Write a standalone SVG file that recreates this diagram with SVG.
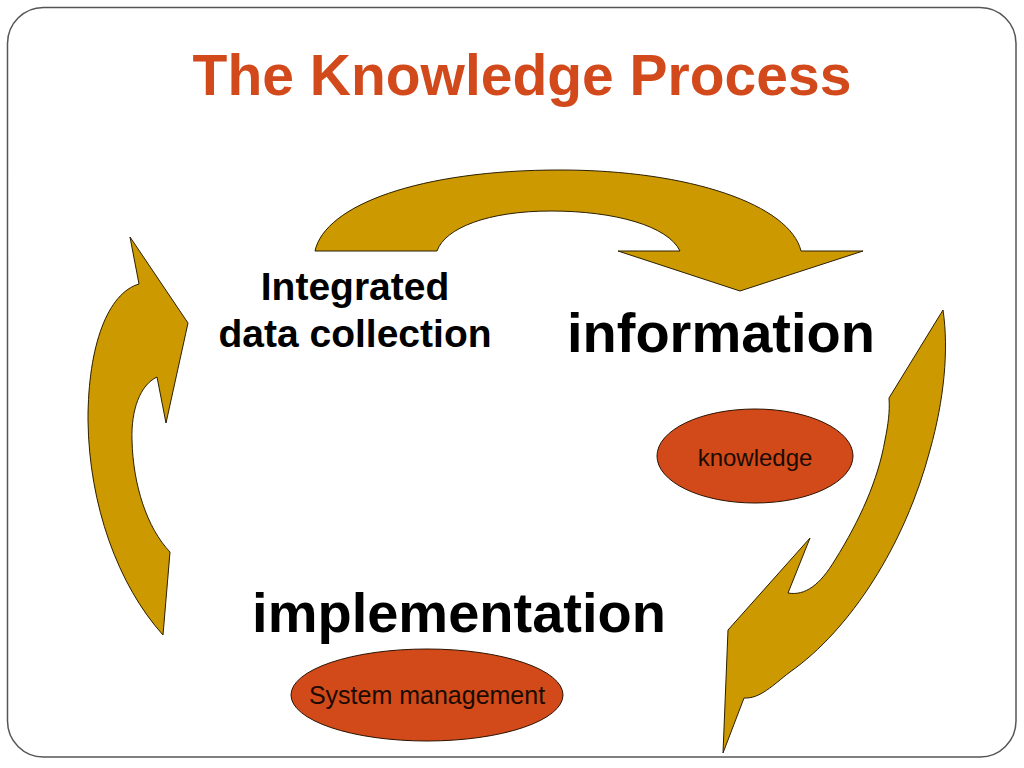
<svg xmlns="http://www.w3.org/2000/svg" width="1024" height="768" viewBox="0 0 1024 768">
<style>
.arrow{fill:#cc9900;stroke:#2b1f00;stroke-width:1}
.oval{fill:#d24a1a;stroke:#2b1200;stroke-width:1}
.big{font-family:"Liberation Sans",Arial,sans-serif;font-weight:bold;fill:#000}
.small{font-family:"Liberation Sans",Arial,sans-serif;fill:#1a0a00}
</style>
<rect x="0" y="0" width="1024" height="768" fill="#fff"/>
<rect x="7.5" y="7.5" width="1008.5" height="749.5" rx="36" ry="36" fill="none" stroke="#555" stroke-width="1.5"/>
<text x="522" y="95" text-anchor="middle" font-family="Liberation Sans, Arial, sans-serif" font-weight="bold" font-size="57" fill="#d2491c">The Knowledge Process</text>
<g id="connectors">
<path class="arrow" d="M315,251 C325,205 420,170 560,170 C690,170 790,205 801,251 L863,251 L740,291 L618,251 L680,251 C668,226 615,211 551,211 C488,211 445,228 437,251 Z"/>
<path class="arrow" d="M130,237 L188,323 L166,423 L157,377 C140,385 131,410 132,440 C133,485 147,528 170,552 L163,635 C118,585 89,505 88,420 C88,345 108,293 139,284 Z"/>
<path class="arrow" d="M943,310 C949,350 944,400 930,450 C905,545 850,630 790,672 C773,685 760,699 744,698 L723,753 L728,630 L810,538 L788,593 C805,596 820,585 835,560 C860,520 878,480 885,440 C888,425 890,412 889,398 Z"/>
</g>
<g id="node-integrated">
<text class="big" font-size="39" text-anchor="middle"><tspan x="355" y="300">Integrated</tspan><tspan x="355" y="347">data collection</tspan></text>
</g>
<g id="node-information">
<text class="big" x="721" y="352" font-size="56" text-anchor="middle">information</text>
</g>
<g id="node-knowledge">
<ellipse class="oval" cx="755" cy="456" rx="98" ry="47"/>
<text class="small" x="755" y="466" font-size="24" text-anchor="middle">knowledge</text>
</g>
<g id="node-implementation">
<text class="big" x="459" y="632" font-size="56" text-anchor="middle">implementation</text>
</g>
<g id="node-system">
<ellipse class="oval" cx="427" cy="695" rx="136" ry="46"/>
<text class="small" x="427" y="704" font-size="25" text-anchor="middle">System management</text>
</g>
</svg>
